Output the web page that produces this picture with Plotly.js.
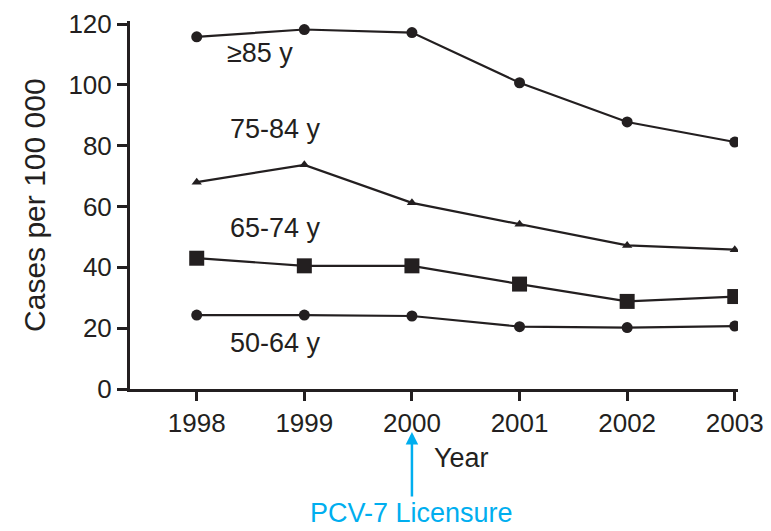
<!DOCTYPE html>
<html><head><meta charset="utf-8">
<script src="https://cdn.plot.ly/plotly-3.0.1.min.js"></script>
<style>html,body{margin:0;padding:0;background:#fff;}</style>
</head><body>
<div id="chart" style="width:771px;height:531px;"></div>
<script>
const years = [1998, 1999, 2000, 2001, 2002, 2003];
const age85 = [115.8, 118.2, 117.2, 100.7, 87.8, 81.2];
const age75 = [68, 73.7, 61.2, 54.2, 47.2, 45.8];
const age65 = [43, 40.5, 40.5, 34.5, 28.8, 30.4];
const age50 = [24.3, 24.3, 24, 20.5, 20.2, 20.7];
const seriesLabels = ['≥85 y', '75-84 y', '65-74 y', '50-64 y'];
const tickVals = [0, 20, 40, 60, 80, 100, 120];
const yTitle = 'Cases per 100 000';

const lineColor = '#231f20';
const fam = '"Liberation Sans", Arial, sans-serif';
const tickFont = {family: fam, color: '#231f20', size: 26};
const labelFont = {family: fam, color: '#231f20', size: 27};

function tr(y, sym, size, name) {
  return {x: years, y: y, type: 'scatter', mode: 'lines+markers', name: name,
    line: {color: lineColor, width: 2.2},
    marker: {symbol: sym, size: size, color: lineColor}};
}
const data = [
  tr(age85, 'circle', 11, seriesLabels[0]),
  tr(age75, 'triangle-up', 9, seriesLabels[1]),
  tr(age65, 'square', 15, seriesLabels[2]),
  tr(age50, 'circle', 11, seriesLabels[3])
];
const labelPos = [[1998.59, 110.5], [1998.73, 85.5], [1998.73, 53], [1998.73, 15]];
const annotations = seriesLabels.map((t, i) => ({x: labelPos[i][0], y: labelPos[i][1], xref: 'x', yref: 'y', text: t, showarrow: false, font: labelFont}));
annotations.push({x: 2000.19, y: -0.1875, xref: 'x', yref: 'paper', text: 'Year', showarrow: false, xanchor: 'left', yanchor: 'middle', font: labelFont});
annotations.push({x: 2000, y: -0.117, xref: 'x', yref: 'paper', text: 'PCV-7 Licensure', showarrow: true,
  ax: 0, ay: 81, arrowhead: 2, arrowsize: 1, arrowwidth: 2.5, arrowcolor: '#00aeef',
  font: {family: fam, color: '#00aeef', size: 27}});
annotations.push({x: -0.158, y: 0.5, xref: 'paper', yref: 'paper', text: yTitle, textangle: -90, showarrow: false,
  xanchor: 'center', yanchor: 'middle', font: {family: fam, color: '#231f20', size: 30}});

const layout = {
  width: 771, height: 531,
  margin: {l: 130, r: 33, t: 21, b: 142},
  paper_bgcolor: '#fff', plot_bgcolor: '#fff',
  showlegend: false,
  font: tickFont,
  xaxis: {range: [1997.38, 2003.03], tickvals: years, ticktext: years.map(String),
    showline: true, linecolor: lineColor, linewidth: 3, ticks: 'outside', ticklen: 9, tickwidth: 3, tickcolor: lineColor,
    showgrid: false, zeroline: false, tickfont: tickFont},
  yaxis: {range: [0, 121], tickvals: tickVals, showline: true, linecolor: lineColor, linewidth: 3,
    ticks: 'outside', ticklen: 10, tickwidth: 3, tickcolor: lineColor, showgrid: false, zeroline: false,
    tickfont: tickFont},
  annotations: annotations
};
Plotly.newPlot('chart', data, layout, {displayModeBar: false, staticPlot: true});
</script>
</body></html>
